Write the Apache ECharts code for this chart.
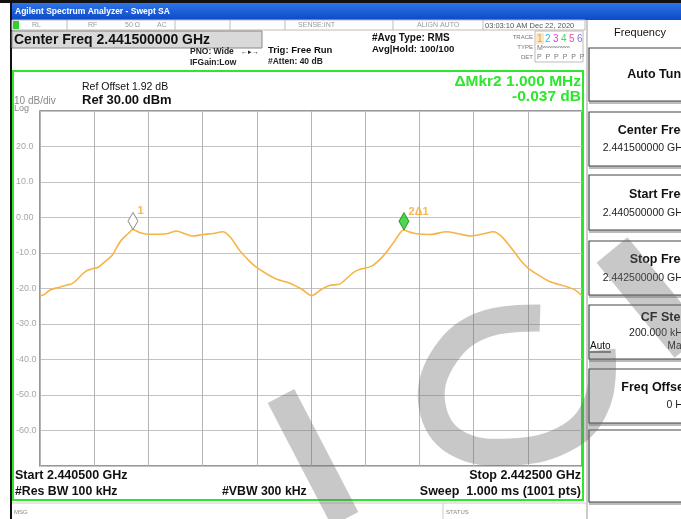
<!DOCTYPE html>
<html>
<head>
<meta charset="utf-8">
<script src="https://cdn.jsdelivr.net/npm/echarts@6/dist/echarts.min.js"></script>
<style>
  html, body { margin: 0; padding: 0; background: #fff; }
  #chart { width: 681px; height: 519px; }
</style>
</head>
<body>
<div id="chart"></div>
<script>
// frequency offset from start (kHz), start = 2.440500 GHz, span 2 MHz
const traceFreq = [0, 18, 37, 68, 99, 117, 135, 166, 191, 215, 240, 265, 283, 301, 326, 343,
    369, 399, 443, 473, 504, 535, 560, 603, 640, 674, 701, 738, 769, 793, 837, 874, 922, 966,
    1003, 1039, 1070, 1107, 1156, 1181, 1224, 1267, 1304, 1330, 1343, 1356, 1390, 1439, 1501,
    1544, 1587, 1636, 1673, 1704, 1747, 1777, 1802, 1845, 1882, 1944, 1974, 2000];
const traceLevel = [-22.1, -21.6, -20.4, -19.7, -19.0, -18.7, -17.6, -15.3, -14.5, -14.0, -12.4,
    -10.8, -8.4, -6.3, -4.5, -3.4, -4.3, -4.7, -4.7, -4.5, -3.8, -4.6, -5.2, -4.8, -4.5, -4.0,
    -5.4, -9.4, -12.0, -13.7, -15.9, -17.4, -18.5, -20.2, -22.0, -20.2, -19.1, -18.7, -15.5,
    -14.6, -13.7, -10.8, -7.1, -4.2, -3.45, -3.9, -4.6, -4.8, -4.0, -4.6, -5.2, -4.6, -4.0,
    -5.4, -9.4, -12.4, -14.3, -16.5, -18.1, -19.5, -20.4, -22.1];
const markerFreq = [343, 1343];
const markerLevel = [-3.4, -3.45];
const markerLabels = ['1', '2\u03941'];
const yTicks = [-70, -60, -50, -40, -30, -20, -10, 0, 10, 20, 30];

const FONT = '"Liberation Sans", Arial, sans-serif';
const chart = echarts.init(document.getElementById('chart'));

function txt(x, y, text, size, opts) {
    opts = opts || {};
    return {
        type: 'text', x: x, y: y, z: opts.z || 10,
        style: {
            text: text,
            font: (opts.bold ? 'bold ' : '') + size + 'px ' + FONT,
            fill: opts.color || '#111',
            textAlign: opts.align || 'left',
            textVerticalAlign: 'middle'
        }
    };
}
function rect(x, y, w, h, fill, stroke, lw, z) {
    return {
        type: 'rect', z: z || 1,
        shape: { x: x, y: y, width: w, height: h },
        style: { fill: fill, stroke: stroke || null, lineWidth: lw || 0 }
    };
}
function line(x1, y1, x2, y2, color, lw, z) {
    return {
        type: 'line', z: z || 2,
        shape: { x1: x1, y1: y1, x2: x2, y2: y2 },
        style: { stroke: color, lineWidth: lw || 1 }
    };
}

const graphics = [
    // frame
    rect(0, 0, 681, 3, '#111'),
    rect(10, 0, 2, 519, '#111'),
    {
        type: 'rect', z: 1, shape: { x: 12, y: 3, width: 669, height: 17 },
        style: {
            fill: new echarts.graphic.LinearGradient(0, 0, 0, 1, [
                { offset: 0, color: '#2f74e8' }, { offset: 1, color: '#0b4bc6' }
            ])
        }
    },
    txt(15, 12, 'Agilent Spectrum Analyzer - Swept SA', 8.5, { bold: true, color: '#fff' }),
    // status row
    rect(12, 20, 573, 10, '#fff', '#bbb', 1),
    rect(13, 21, 6, 8, '#2fd12f'),
    line(67, 20, 67, 30, '#bbb'), line(175, 20, 175, 30, '#bbb'), line(230, 20, 230, 30, '#bbb'),
    line(285, 20, 285, 30, '#bbb'), line(393, 20, 393, 30, '#bbb'), line(483, 20, 483, 30, '#bbb'),
    txt(32, 25.5, 'RL', 7, { color: '#999' }),
    txt(88, 25.5, 'RF', 7, { color: '#999' }),
    txt(125, 25.5, '50 \u03a9', 7, { color: '#999' }),
    txt(157, 25.5, 'AC', 7, { color: '#999' }),
    txt(335, 25.5, 'SENSE:INT', 7, { color: '#999', align: 'right' }),
    txt(417, 25.5, 'ALIGN AUTO', 7, { color: '#999' }),
    txt(485, 25.5, '03:03:10 AM Dec 22, 2020', 7.5, { color: '#555' }),
    // center freq box
    rect(12, 31, 250, 17, '#d9d9d9', '#888', 1),
    txt(14, 40, 'Center Freq 2.441500000 GHz', 14, { bold: true }),
    txt(190, 52, 'PNO: Wide', 8.5, { bold: true, color: '#222' }),
    txt(241, 52, '\u2190\u25b8\u2192', 7, { color: '#222' }),
    txt(190, 63, 'IFGain:Low', 8.5, { bold: true, color: '#222' }),
    txt(268, 50, 'Trig: Free Run', 9.5, { bold: true, color: '#111' }),
    txt(268, 62, '#Atten: 40 dB', 8.5, { bold: true, color: '#222' }),
    txt(372, 38, '#Avg Type: RMS', 10, { bold: true, color: '#111' }),
    txt(372, 49, 'Avg|Hold: 100/100', 9.6, { bold: true, color: '#111' }),
    // trace indicator
    txt(533, 37, 'TRACE', 6, { color: '#777', align: 'right' }),
    txt(533, 47, 'TYPE', 6, { color: '#777', align: 'right' }),
    txt(533, 57, 'DET', 6, { color: '#777', align: 'right' }),
    rect(535, 31, 48, 31, null, '#bbb', 1),
    rect(536, 33, 8, 11, '#fbe7c4'),
    txt(537, 39, '1', 10, { color: '#f0a030' }),
    txt(545, 39, '2', 10, { color: '#22c8e8' }),
    txt(553, 39, '3', 10, { color: '#e83ce8' }),
    txt(561, 39, '4', 10, { color: '#46d46a' }),
    txt(569, 39, '5', 10, { color: '#f04a9a' }),
    txt(577, 39, '6', 10, { color: '#8a6af0' }),
    txt(537, 48, 'M\u02b7\u02b7\u02b7\u02b7\u02b7\u02b7\u02b7\u02b7', 7, { color: '#777' }),
    txt(537, 57, 'P  P  P  P  P  P', 7, { color: '#777' }),
    // green screen border
    rect(13, 71, 570, 429, null, '#2ee62e', 2, 20),
    txt(14, 101, '10 dB/div', 10, { color: '#888' }),
    txt(14, 109, 'Log', 9, { color: '#888' }),
    txt(82, 87, 'Ref Offset 1.92 dB', 10.5, { color: '#111' }),
    txt(82, 100, 'Ref 30.00 dBm', 13, { bold: true, color: '#111' }),
    txt(581, 82, '\u0394Mkr2 1.000 MHz', 15.5, { bold: true, color: '#2ee62e', align: 'right' }),
    txt(581, 97, '-0.037 dB', 15.5, { bold: true, color: '#2ee62e', align: 'right' }),
    txt(15, 476, 'Start 2.440500 GHz', 12.5, { bold: true }),
    txt(15, 492, '#Res BW 100 kHz', 12.3, { bold: true }),
    txt(222, 492, '#VBW 300 kHz', 12.3, { bold: true }),
    txt(581, 476, 'Stop 2.442500 GHz', 12.5, { bold: true, align: 'right' }),
    txt(581, 492, 'Sweep  1.000 ms (1001 pts)', 12.5, { bold: true, align: 'right' }),
    // bottom message row
    line(12, 503, 586, 503, '#ccc'),
    line(443, 503, 443, 519, '#ccc'),
    txt(14, 512, 'MSG', 6, { color: '#888' }),
    txt(446, 512, 'STATUS', 6, { color: '#888' }),
    // right soft-key panel
    line(587, 20, 587, 519, '#999'),
    txt(640, 33, 'Frequency', 11, { color: '#111', align: 'center' })
];

const keys = [
    { y: 48, h: 53, t: 'Auto Tune', ty: 75 },
    { y: 112, h: 54, t: 'Center Freq', ty: 131, v: '2.441500000 GHz', vy: 148 },
    { y: 175, h: 55, t: 'Start Freq', ty: 195, v: '2.440500000 GHz', vy: 213 },
    { y: 241, h: 54, t: 'Stop Freq', ty: 260, v: '2.442500000 GHz', vy: 278 },
    { y: 305, h: 54, t: 'CF Step', ty: 318, v: '200.000 kHz', vy: 333 },
    { y: 369, h: 54, t: 'Freq Offset', ty: 388, v: '0 Hz', vy: 405 },
    { y: 430, h: 72 }
];
keys.forEach(function (k) {
    graphics.push(rect(589, k.y + k.h, 100, 3, '#bbb'));
    graphics.push(rect(589, k.y, 100, k.h, '#fff', '#444', 1.2));
    if (k.t) graphics.push(txt(688, k.ty, k.t, 12.5, { bold: true, align: 'right' }));
    if (k.v) graphics.push(txt(688, k.vy, k.v, 10.5, { color: '#222', align: 'right' }));
});
graphics.push(txt(590, 346, 'Auto', 10, { color: '#111' }));
graphics.push(line(590, 352, 611, 352, '#111'));
graphics.push(txt(687, 346, 'Man', 10, { color: '#111', align: 'right' }));

// watermark
const wm = 'rgba(110,110,110,0.38)';
graphics.push({
    type: 'polyline', z: 50,
    shape: { points: [[281, 396], [345, 519]] },
    style: { stroke: wm, lineWidth: 30, fill: null }
});
graphics.push({
    type: 'polyline', z: 50,
    shape: { points: [[540, 318], [480, 326], [442, 360], [432, 405], [455, 442], [510, 452], [570, 436], [598, 400], [602, 350]], smooth: 0.4 },
    style: { stroke: wm, lineWidth: 27, fill: null }
});
graphics.push({
    type: 'polyline', z: 50,
    shape: { points: [[612, 250], [690, 345]] },
    style: { stroke: wm, lineWidth: 40, fill: null }
});

const option = {
    animation: false,
    backgroundColor: '#fff',
    grid: { left: 40, top: 111, width: 542, height: 355, show: true, borderColor: '#777', borderWidth: 1.5 },
    xAxis: {
        type: 'value', min: 0, max: 2000, interval: 200,
        axisLine: { show: false }, axisTick: { show: false }, axisLabel: { show: false },
        splitLine: { lineStyle: { color: '#b4b4b4', width: 1 } }
    },
    yAxis: {
        type: 'value', min: yTicks[0], max: yTicks[yTicks.length - 1], interval: 10,
        axisLine: { show: false }, axisTick: { show: false },
        axisLabel: {
            showMinLabel: false, showMaxLabel: false,
            align: 'left', margin: 24, color: '#a8a8a8', fontSize: 9, fontFamily: FONT,
            formatter: function (v) { return v === 0 ? '0.00' : v.toFixed(1); }
        },
        splitLine: { lineStyle: { color: '#c4c4c4', width: 1 } }
    },
    series: [
        {
            type: 'line', z: 3,
            data: traceFreq.map(function (f, i) { return [f, traceLevel[i]]; }),
            showSymbol: false, smooth: 0.3,
            lineStyle: { color: '#f7b446', width: 1.6 }
        },
        {
            type: 'scatter', z: 4,
            data: markerFreq.map(function (f, i) {
                return {
                    value: [f, markerLevel[i]],
                    itemStyle: i === 0
                        ? { color: '#fff', borderColor: '#777', borderWidth: 1 }
                        : { color: '#22cc22', borderColor: '#138a13', borderWidth: 1 }
                };
            }),
            symbol: 'diamond', symbolSize: [10, 17], symbolOffset: [0, '-50%'],
            label: {
                show: true, position: [10, -6], color: '#f5a623', fontSize: 11,
                fontWeight: 'bold', fontFamily: FONT,
                formatter: function (p) { return markerLabels[p.dataIndex]; }
            }
        }
    ],
    graphic: graphics
};
chart.setOption(option);
</script>
</body>
</html>
